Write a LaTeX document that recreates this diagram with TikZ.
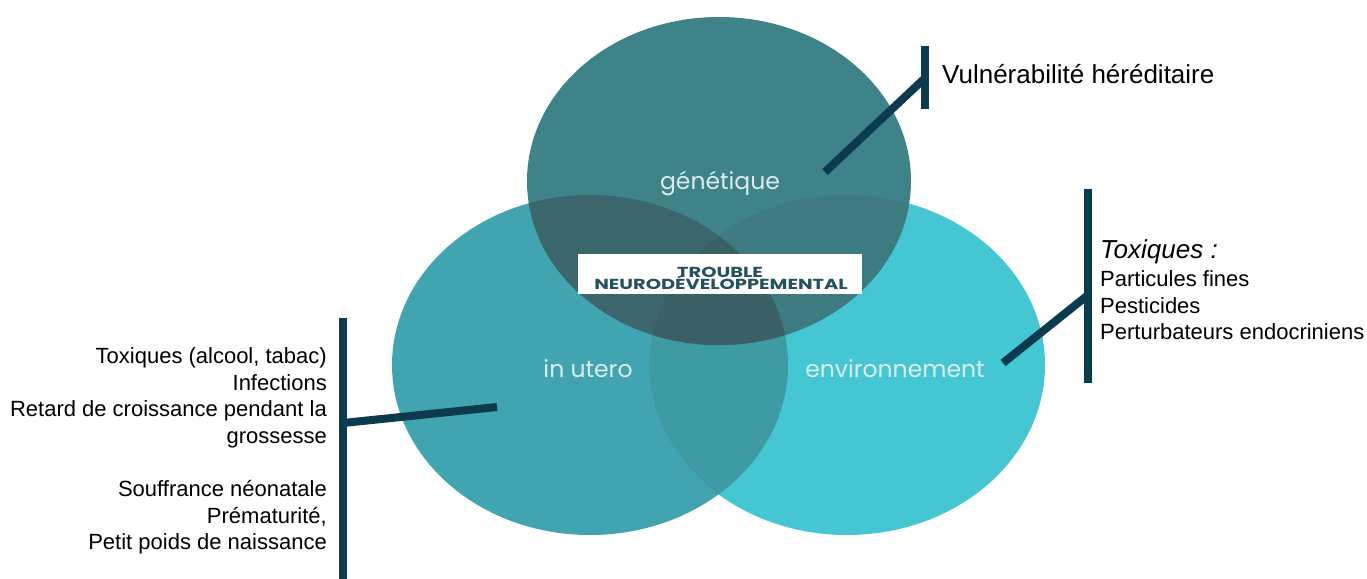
\documentclass[tikz,border=0pt]{standalone}
\usepackage{fontspec}
\setmainfont{Liberation Sans}
\newfontfamily\popfont{Poppins}
\newfontfamily\boxfont[FakeStretch=1.34]{Poppins}
\definecolor{uteroC}{HTML}{40A5B0}
\definecolor{envC}{HTML}{44C7D3}
\definecolor{lensC}{HTML}{3E9BA4}
\definecolor{genC}{HTML}{3D8388}
\definecolor{genUteroC}{HTML}{3B676C}
\definecolor{genEnvC}{HTML}{3D7B80}
\definecolor{tripleC}{HTML}{3A6066}
\definecolor{barC}{HTML}{0C3A4F}
\definecolor{circTextC}{HTML}{DCECEE}
\definecolor{boxTextC}{HTML}{24505F}
\tikzset{
  barline/.style={draw=barC, line width=8pt},
  linkline/.style={draw=barC, line width=8pt},
  circtext/.style={font=\popfont\fontsize{23.5}{24}\selectfont, text=circTextC, anchor=base, inner sep=0pt},
  sideL/.style={font=\fontsize{22}{26}\selectfont, anchor=base east, inner sep=0pt, text=black},
  sideR/.style={font=\fontsize{22}{26}\selectfont, anchor=base west, inner sep=0pt, text=black},
  bigR/.style={font=\fontsize{26}{30}\selectfont, anchor=base west, inner sep=0pt, text=black},
  boxline/.style={font=\boxfont\bfseries\fontsize{14.5}{15}\selectfont, text=boxTextC, anchor=base, inner sep=0pt}
}
\begin{document}
\begin{tikzpicture}[x=1pt,y=-1pt]
\useasboundingbox (0,0) rectangle (1367,578);
\def\uteroE{(590,365) ellipse [x radius=198pt, y radius=170pt]}
\def\envE{(847,365) ellipse [x radius=198pt, y radius=170pt]}
\def\genE{(719,181) ellipse [x radius=192pt, y radius=164pt]}
% base circles
\fill[uteroC] \uteroE;
\fill[envC] \envE;
\begin{scope}
  \clip \uteroE;
  \fill[lensC] \envE;
\end{scope}
\fill[genC] \genE;
\begin{scope}
  \clip \genE;
  \fill[genUteroC] \uteroE;
  \fill[genEnvC] \envE;
  \clip \uteroE;
  \fill[tripleC] \envE;
\end{scope}
% circle labels
\node[circtext] (gen) at (720,189) {génétique};
\node[circtext] (utero) at (588,377) {in utero};
\node[circtext] (env) at (895,377) {environnement};
% central box
\node[fill=white, minimum width=284pt, minimum height=40pt, inner sep=0pt] (box) at (720,274) {};
\node[boxline] (t1) at (720,277) {TROUBLE};
\node[boxline] (t2) at (721,289) {NEURODÉVELOPPEMENTAL};
% bars and connectors
\coordinate (tb1) at (925,46);
\coordinate (tb2) at (925,109);
\coordinate (tbm) at (925,78);
\coordinate (tin) at (825,172);
\draw[barline] (tb1) -- (tb2);
\draw[linkline] (tin) -- (tbm);
\coordinate (rb1) at (1088,189);
\coordinate (rb2) at (1088,383);
\coordinate (rbm) at (1088,295);
\coordinate (rin) at (1003,363);
\draw[barline] (rb1) -- (rb2);
\draw[linkline] (rin) -- (rbm);
\coordinate (lb1) at (343,318);
\coordinate (lb2) at (343,582);
\coordinate (lbm) at (343,423);
\coordinate (lin) at (497,407);
\draw[barline] (lb1) -- (lb2);
\draw[linkline] (lin) -- (lbm);
% texts
\node[bigR] (vh) at (942,83) {Vulnérabilité héréditaire};
\node[bigR, font=\fontsize{26}{30}\selectfont\itshape] (tox) at (1100,258) {Toxiques :};
\node[sideR] (r1) at (1100,286) {Particules fines};
\node[sideR] (r2) at (1100,313) {Pesticides};
\node[sideR] (r3) at (1100,339) {Perturbateurs endocriniens};
\node[sideL] (l1) at (327,363) {Toxiques (alcool, tabac)};
\node[sideL] (l2) at (327,390) {Infections};
\node[sideL] (l3) at (327,416) {Retard de croissance pendant la};
\node[sideL] (l4) at (327,443) {grossesse};
\node[sideL] (l5) at (327,496) {Souffrance néonatale};
\node[sideL] (l6) at (327,523) {Prématurité,};
\node[sideL] (l7) at (327,549) {Petit poids de naissance};
\end{tikzpicture}
\end{document}
